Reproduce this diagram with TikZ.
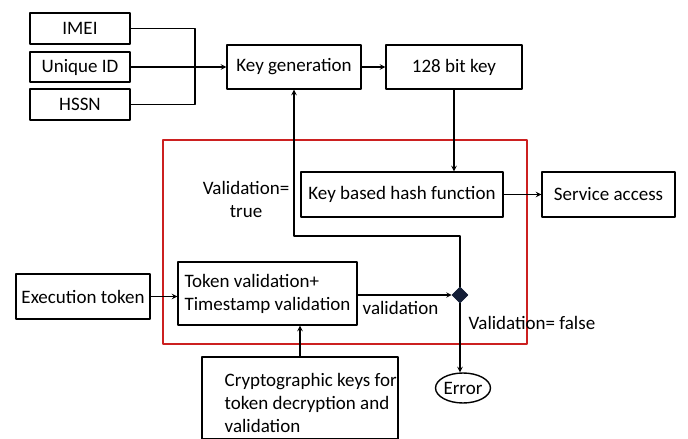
\documentclass[tikz,border=0pt]{standalone}
\usepackage{fontspec}
\setmainfont{Carlito}
\usetikzlibrary{shapes.geometric}
\definecolor{framered}{RGB}{204,32,32}
\definecolor{decnavy}{RGB}{20,30,55}
\tikzset{
  blk/.style={draw, line width=1.4pt, inner sep=2pt},
  lbl/.style={inner sep=1pt}
}
\begin{document}
\begin{tikzpicture}[x=1pt,y=-1pt,>=stealth, font=\fontsize{19}{23}\selectfont, line join=round, line width=1.4pt]
\useasboundingbox (0,0) rectangle (688,439);
% red frame
\draw[framered, line width=1.5pt] (163,140) rectangle (527,344);
% inputs
\node[blk, minimum width=100, minimum height=31] (imei) at (80,28.5) {IMEI};
\node[blk, minimum width=100, minimum height=30] (uid) at (80,67) {Unique ID};
\node[blk, minimum width=100, minimum height=31] (hssn) at (80,104.5) {HSSN};
\node[blk, minimum width=134, minimum height=44] (keygen) at (294,67) {Key generation};
\node[blk, minimum width=136, minimum height=44] (key) at (454,67) {128 bit key};
\node[blk, minimum width=202, minimum height=45] (hash) at (402,194.5) {Key based hash function};
\node[blk, minimum width=133, minimum height=45] (service) at (608.5,194.5) {Service access};
\node[blk, minimum width=134, minimum height=45] (exec) at (83,296.5) {Execution token};
\node[blk, minimum width=179, minimum height=63, align=left] (token) at (267.5,293.5) {Token validation+\\Timestamp validation};
\node[blk, minimum width=196, minimum height=82] (crypto) at (300,398) {};
\node[lbl, anchor=west, align=left] (cryptotxt) at (223,403) {Cryptographic keys for\\token decryption and\\ validation};
\node[diamond, fill=decnavy, draw=decnavy, line width=0.6pt, minimum size=16, inner sep=0pt] (dec) at (460,295) {};
\node[ellipse, draw, minimum width=53, minimum height=30, inner sep=0pt] (err) at (463,388) {Error};
\coordinate (join) at (195,67);
\coordinate (bend) at (294,236);
% connectors
\draw (imei.east) -| (join);
\draw (hssn.east) -| (join);
\draw[->] (uid.east) -- (keygen.west);
\draw[->] (keygen) -- (key);
\draw[->] (key.south) -- (key.south |- hash.north);
\draw[->] (hash) -- (service);
\draw[->] (exec.east) -- (exec.east -| token.west);
\draw[->] (token.east |- dec) -- (dec.west);
\draw[->] (dec.north) |- (bend) -- (bend |- keygen.south);
\draw[->] (dec.south) -- (dec.south |- err.north);
\draw[->] (crypto.north) -- (crypto.north |- token.south);
% labels
\node[lbl, anchor=north west] (vlbl) at (361,300) {validation};
\node[lbl, align=center] (vtrue) at (246,199) {Validation=\\true};
\node[lbl, anchor=west] (vfalse) at (467,323) {Validation= false};
\end{tikzpicture}
\end{document}
